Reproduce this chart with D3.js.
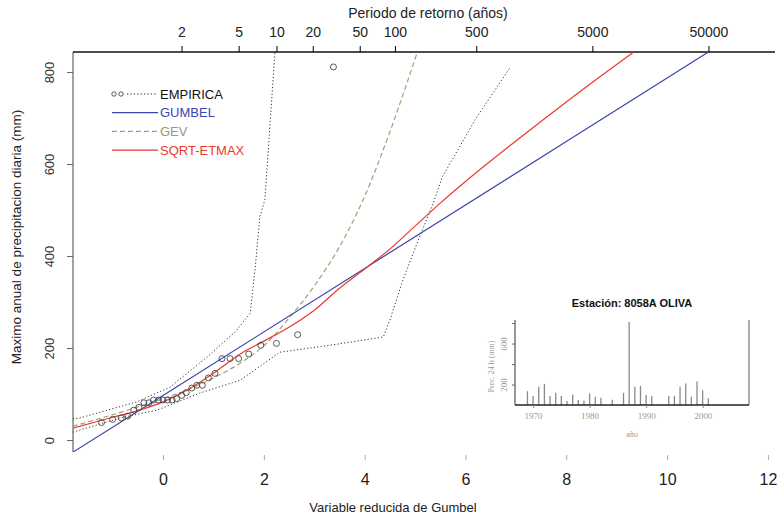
<!DOCTYPE html>
<html>
<head>
<meta charset="utf-8">
<script src="https://cdn.jsdelivr.net/npm/d3@7"></script>
<style>
  body { margin: 0; background: #fff; }
  svg { font-family: "Liberation Sans", Arial, sans-serif; }
</style>
</head>
<body>
<div id="chart"></div>
<script>
// reduced Gumbel variable (x) and annual maxima (mm) of the sorted sample
const empV = [-1.22, -1.00, -0.83, -0.70, -0.58, -0.48, -0.38, -0.28, -0.19, -0.09, 0.00, 0.09, 0.18, 0.27,
  0.37, 0.46, 0.57, 0.67, 0.78, 0.90, 1.03, 1.17, 1.33, 1.50, 1.70, 1.94, 2.25, 2.67, 3.38];
const empQ = [38, 45, 48, 52, 65, 71, 81, 81, 87, 87, 87, 87, 87, 90, 97, 103, 113, 119, 119, 135, 145,
  177, 177, 177, 187, 206, 210, 229, 811];

// empirical band (dotted)
const bandHiV = [-1.79, -1.65, -0.52, 0.14, 0.87, 1.43, 1.73, 1.83, 1.92, 2.02, 2.22];
const bandHiQ = [46, 48, 83, 115, 180, 235, 276, 376, 485, 522, 843];
const bandLoV = [-1.79, -0.85, -0.12, 0.73, 1.53, 2.32, 3.31, 4.37, 4.50, 4.76, 5.04, 5.36, 5.54, 6.19, 6.88];
const bandLoQ = [17, 48, 65, 102, 130, 191, 206, 224, 261, 348, 428, 515, 572, 696, 809];

// fitted distributions
const gumV = [-2, 0, 4, 8, 12];
const gumQ = [-41, 97, 373, 649, 925];
const gevV = [-1.79, -1, -0.5, 0, 0.5, 1, 1.5, 2, 2.5, 3, 3.5, 4, 4.5, 5.05];
const gevQ = [30, 55, 72, 90, 110, 135, 165, 205, 265, 335, 420, 530, 670, 845];
const sqrtV = [-1.79, -1.05, -0.5, 0, 0.5, 1, 1.5, 2, 2.5, 3, 3.5, 4, 4.5, 5, 5.5, 6, 7, 8, 9.33];
const sqrtQ = [26, 48, 64, 83, 110, 145, 185, 215, 245, 282, 330, 372, 415, 465, 515, 562, 650, 735, 843];

// return periods on the top axis
const periods = [2, 5, 10, 20, 50, 100, 500, 5000, 50000];
const xTicks = [0, 2, 4, 6, 8, 10, 12];
const yTicks = [0, 200, 400, 600, 800];

// inset: annual maxima per year
const years = [1969, 1970, 1971, 1972, 1973, 1974, 1975, 1976, 1977, 1978, 1979, 1980, 1981, 1982, 1984,
  1986, 1987, 1988, 1989, 1990, 1991, 1994, 1995, 1996, 1997, 1998, 1999, 2000, 2001];
const annual = [135, 87, 177, 206, 87, 119, 87, 38, 103, 48, 45, 113, 81, 71, 52,
  119, 811, 177, 187, 97, 87, 87, 90, 177, 210, 81, 229, 145, 65];
const insetYears = [1970, 1980, 1990, 2000];
const insetTicks = [200, 400, 600, 800];
const insetLabels = [200, 600];

const legendItems = [
  {label: "EMPIRICA", color: "#222", text: "#111", dash: "1.2,2.2", pts: true},
  {label: "GUMBEL", color: "#3b44b0", text: "#3b44b0", dash: null},
  {label: "GEV", color: "#a0a078", text: "#9a9a78", dash: "5,3"},
  {label: "SQRT-ETMAX", color: "#e83a30", text: "#e83a30", dash: null}
];

const W = 783, H = 518;
const plot = {left: 73, right: 775, top: 52, bottom: 452};

const svg = d3.select("#chart").append("svg")
  .attr("width", W).attr("height", H);

const x = d3.scaleLinear().domain([-1.786, 12.14]).range([plot.left, plot.right]);
const y = d3.scaleLinear().domain([-26, 843.5]).range([plot.bottom, plot.top]);

svg.append("clipPath").attr("id", "clip")
  .append("rect")
  .attr("x", plot.left).attr("y", plot.top)
  .attr("width", plot.right - plot.left).attr("height", plot.bottom - plot.top);

// left axis
const yAxis = d3.axisLeft(y).tickValues(yTicks).tickSize(6).tickSizeOuter(0);
const yAxisG = svg.append("g").attr("transform", `translate(${plot.left},0)`).call(yAxis);
yAxisG.select(".domain").attr("d", `M0,${plot.top}V${plot.bottom}`).attr("stroke", "#444");
yAxisG.selectAll(".tick line").attr("stroke", "#666");
yAxisG.selectAll(".tick text")
  .attr("transform", "translate(-24,0) rotate(-90)")
  .attr("x", 0).attr("y", 0).attr("dy", "0.35em")
  .style("text-anchor", "middle")
  .attr("fill", "#333").style("font-size", "13px");

// bottom axis: ticks only, no line
const xAxis = d3.axisBottom(x).tickValues(xTicks).tickSize(5).tickPadding(14).tickSizeOuter(0);
const xAxisG = svg.append("g").attr("transform", `translate(0,${plot.bottom + 3})`).call(xAxis);
xAxisG.select(".domain").remove();
xAxisG.selectAll(".tick line").attr("stroke", "#aaa");
xAxisG.selectAll(".tick text").attr("fill", "#222").style("font-size", "16px");

// top axis: return periods
const gumbelOf = T => -Math.log(-Math.log(1 - 1 / T));
const topAxis = d3.axisTop(x).tickValues(periods.map(gumbelOf))
  .tickFormat((d, i) => periods[i]).tickSize(6).tickPadding(9).tickSizeOuter(0);
const topG = svg.append("g").attr("transform", `translate(0,${plot.top})`).call(topAxis);
topG.select(".domain").attr("d", `M${plot.left},0H${plot.right}`).attr("stroke", "#111").attr("stroke-width", 1.3);
topG.selectAll(".tick text").attr("fill", "#222").style("font-size", "14px");

// axis titles
svg.append("text").attr("x", 428).attr("y", 18)
  .style("text-anchor", "middle").style("font-size", "14px").attr("fill", "#222")
  .text("Periodo de retorno (años)");
svg.append("text").attr("x", 393).attr("y", 512)
  .style("text-anchor", "middle").style("font-size", "13px").attr("fill", "#222")
  .text("Variable reducida de Gumbel");
svg.append("text")
  .attr("transform", "translate(16,237) rotate(-90)")
  .attr("dy", "0.35em")
  .style("text-anchor", "middle").style("font-size", "13.5px").attr("fill", "#222")
  .text("Maximo anual de precipitacion diaria (mm)");

// curves
const chart = svg.append("g").attr("clip-path", "url(#clip)");
const pairs = (vs, qs) => vs.map((v, i) => [v, qs[i]]);
const straight = d3.line().x(d => x(d[0])).y(d => y(d[1]));
const smooth = d3.line().x(d => x(d[0])).y(d => y(d[1])).curve(d3.curveMonotoneX);

chart.append("path").datum(pairs(bandHiV, bandHiQ)).attr("d", straight)
  .attr("fill", "none").attr("stroke", "#333").attr("stroke-width", 1).attr("stroke-dasharray", "1.2,2.2");
chart.append("path").datum(pairs(bandLoV, bandLoQ)).attr("d", straight)
  .attr("fill", "none").attr("stroke", "#333").attr("stroke-width", 1).attr("stroke-dasharray", "1.2,2.2");

chart.append("path").datum(pairs(gevV, gevQ)).attr("d", smooth)
  .attr("fill", "none").attr("stroke", legendItems[2].color).attr("stroke-width", 1.2).attr("stroke-dasharray", "5,3");
chart.append("path").datum(pairs(gumV, gumQ)).attr("d", straight)
  .attr("fill", "none").attr("stroke", legendItems[1].color).attr("stroke-width", 1.2);
chart.append("path").datum(pairs(sqrtV, sqrtQ)).attr("d", smooth)
  .attr("fill", "none").attr("stroke", legendItems[3].color).attr("stroke-width", 1.2);

chart.selectAll(".emp").data(pairs(empV, empQ)).join("circle")
  .attr("class", "emp")
  .attr("cx", d => x(d[0])).attr("cy", d => y(d[1])).attr("r", 3)
  .attr("fill", "none").attr("stroke", "#444").attr("stroke-width", 0.9);

// legend
const legend = svg.append("g").attr("transform", "translate(112,94)");
legendItems.forEach((item, i) => {
  const g = legend.append("g").attr("transform", `translate(0,${i * 18.7})`);
  if (item.pts) {
    g.selectAll("circle").data([2, 9]).join("circle")
      .attr("cx", d => d).attr("cy", 0).attr("r", 2.2)
      .attr("fill", "none").attr("stroke", "#444").attr("stroke-width", 0.9);
    g.append("line").attr("x1", 15).attr("x2", 45).attr("y1", 0).attr("y2", 0)
      .attr("stroke", item.color).attr("stroke-dasharray", item.dash);
  } else {
    g.append("line").attr("x1", 0).attr("x2", 46).attr("y1", 0).attr("y2", 0)
      .attr("stroke", item.color).attr("stroke-width", 1.2)
      .attr("stroke-dasharray", item.dash);
  }
  g.append("text").attr("x", 48).attr("y", 0).attr("dy", "0.35em")
    .style("font-size", "13px").attr("fill", item.text).text(item.label);
});

// inset
const inset = {left: 515, right: 749, top: 320, bottom: 405};
const xi = d3.scaleLinear().domain([1966.8, 2008.2]).range([inset.left, inset.right]);
const yi = d3.scaleLinear().domain([0, 830]).range([inset.bottom, inset.top]);
const ins = svg.append("g");

ins.append("text").attr("x", 632).attr("y", 307)
  .style("text-anchor", "middle").style("font-size", "11px").style("font-weight", "bold")
  .attr("fill", "#111").text("Estación: 8058A OLIVA");

ins.selectAll(".bar").data(years).join("line")
  .attr("class", "bar")
  .attr("x1", d => xi(d)).attr("x2", d => xi(d))
  .attr("y1", inset.bottom).attr("y2", (d, i) => yi(annual[i]))
  .attr("stroke", "#8a8a8a").attr("stroke-width", 1.3);

ins.append("line").attr("x1", inset.right).attr("x2", inset.right)
  .attr("y1", inset.top).attr("y2", inset.bottom)
  .attr("stroke", "#777").attr("stroke-width", 1.2);

const xiAxis = d3.axisBottom(xi).tickValues(insetYears).tickFormat(d3.format("d"))
  .tickSize(3).tickPadding(5).tickSizeOuter(0);
const xiG = ins.append("g").attr("transform", `translate(0,${inset.bottom})`).call(xiAxis);
xiG.select(".domain").attr("d", `M${inset.left},0H${inset.right}`).attr("stroke", "#222").attr("stroke-width", 1.5);
xiG.selectAll(".tick line").attr("stroke", "#888");
xiG.selectAll(".tick text").attr("fill", "#999")
  .style("font-family", "'Liberation Serif', serif").style("font-size", "9px");

const yiAxis = d3.axisLeft(yi).tickValues(insetTicks).tickSize(3).tickSizeOuter(0)
  .tickFormat(d => insetLabels.includes(d) ? d : "");
const yiG = ins.append("g").attr("transform", `translate(${inset.left},0)`).call(yiAxis);
yiG.select(".domain").attr("d", `M0,${inset.top}V${inset.bottom}`).attr("stroke", "#333");
yiG.selectAll(".tick line").attr("stroke", "#666");
yiG.selectAll(".tick text")
  .attr("transform", "translate(-11,0) rotate(-90)")
  .attr("x", 0).attr("y", 0).attr("dy", "0.35em")
  .style("text-anchor", "middle").attr("fill", "#999")
  .style("font-family", "'Liberation Serif', serif").style("font-size", "9px");

ins.append("text").attr("x", 632).attr("y", 437)
  .style("text-anchor", "middle").style("font-size", "8px").attr("fill", "#999")
  .style("font-family", "'Liberation Serif', serif").text("año");
ins.append("text")
  .attr("transform", `translate(491,${(inset.top + inset.bottom) / 2 + 4}) rotate(-90)`)
  .attr("dy", "0.35em")
  .style("text-anchor", "middle").style("font-size", "8px").attr("fill", "#999")
  .style("font-family", "'Liberation Serif', serif").text("Prec. 24 h (mm)");
</script>
</body>
</html>
